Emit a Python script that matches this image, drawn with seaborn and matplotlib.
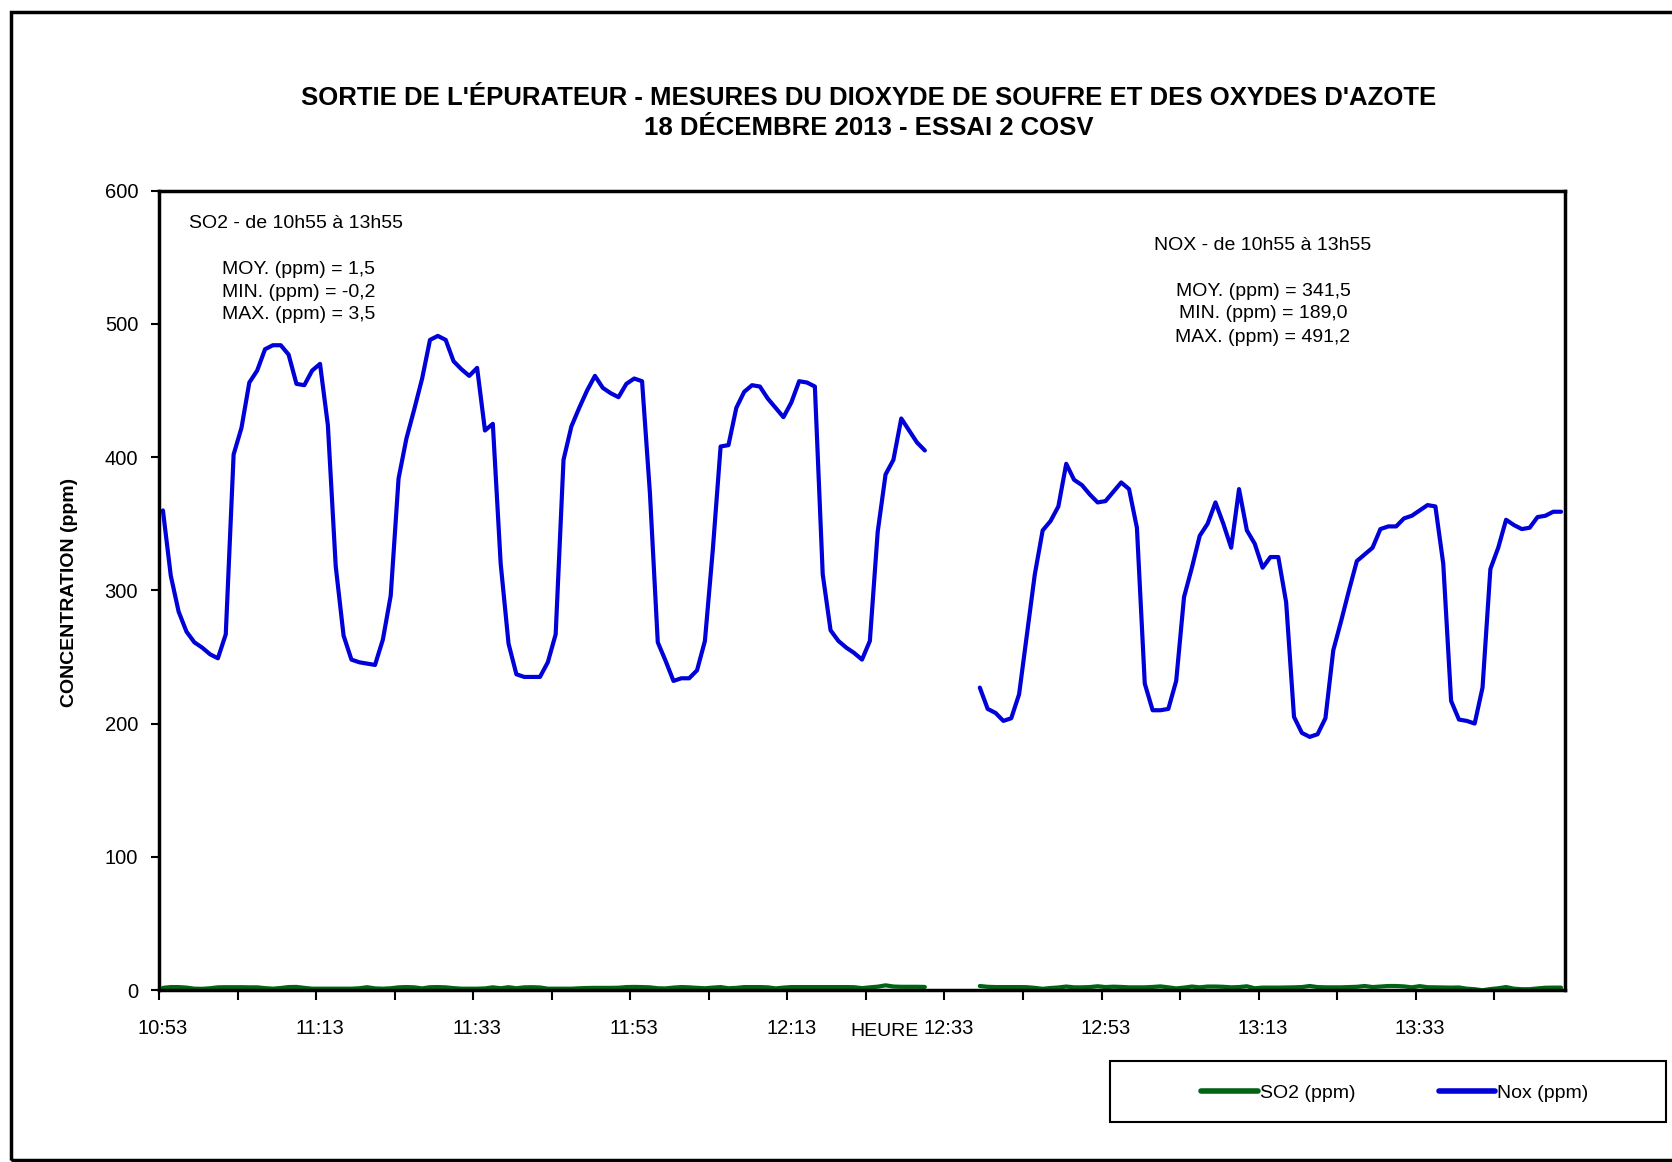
import numpy as np
import pandas as pd
import matplotlib
matplotlib.use("Agg")
import matplotlib.pyplot as plt
import seaborn as sns
from matplotlib.lines import Line2D
from matplotlib.patches import Rectangle

sns.set_style("white")
plt.rcParams['font.family'] = ['Liberation Sans', 'DejaVu Sans']
plt.rcParams['text.color'] = 'black'
plt.rcParams['xtick.color'] = 'black'
plt.rcParams['ytick.color'] = 'black'
plt.rcParams['axes.labelcolor'] = 'black'

# ---------------- data (one value per minute, category axis) ----------------
seg1_start = 0      # 10:53
seg2_start = 104    # 12:37 (no data 12:31 - 12:36)
n_categories = 179

nox_seg1 = [360, 311, 284, 269, 261, 257, 252, 249, 267, 402,
            422, 456, 465, 481, 484, 484, 477, 455, 454, 465,
            470, 424, 318, 266, 248, 246, 245, 244, 263, 296,
            384, 414, 436, 459, 488, 491, 488, 472, 466, 461,
            467, 420, 425, 320, 260, 237, 235, 235, 235, 246,
            267, 398, 423, 437, 450, 461, 452, 448, 445, 455,
            459, 457, 373, 261, 247, 232, 234, 234, 240, 262,
            330, 408, 409, 437, 449, 454, 453, 444, 437, 430,
            441, 457, 456, 453, 312, 270, 262, 257, 253, 248,
            262, 344, 387, 398, 429, 420, 411, 405]
nox_seg2 = [227, 211, 208, 202, 204, 222, 267, 312, 345, 352,
            363, 395, 383, 379, 372, 366, 367, 374, 381, 376,
            347, 230, 210, 210, 211, 232, 295, 317, 341, 350,
            366, 350, 332, 376, 345, 335, 317, 325, 325, 291,
            205, 193, 190, 192, 204, 255, 277, 300, 322, 327,
            332, 346, 348, 348, 354, 356, 360, 364, 363, 320,
            217, 203, 202, 200, 227, 316, 332, 353, 349, 346,
            347, 355, 356, 359, 359]

so2_seg1 = [1.6, 2.2, 2.2, 1.8, 1.0, 0.9, 1.3, 2.0, 2.1, 2.1,
            2.1, 2.0, 2.0, 1.4, 1.0, 1.5, 2.2, 2.3, 1.6, 1.0,
            1.0, 1.0, 1.0, 1.0, 1.0, 1.3, 2.1, 1.2, 1.0, 1.3,
            2.0, 2.2, 2.0, 1.2, 2.1, 2.2, 2.0, 1.4, 1.0, 1.0,
            1.0, 1.2, 2.0, 1.3, 2.1, 1.3, 2.0, 2.1, 1.9, 1.0,
            1.0, 1.0, 1.0, 1.3, 1.5, 1.6, 1.6, 1.6, 1.7, 2.2,
            2.3, 2.2, 2.0, 1.3, 1.2, 1.8, 2.2, 2.0, 1.6, 1.3,
            1.8, 2.2, 1.3, 1.6, 2.2, 2.2, 2.2, 2.0, 1.2, 1.8,
            2.2, 2.2, 2.2, 2.2, 2.2, 2.2, 2.2, 2.2, 2.1, 1.4,
            2.0, 2.5, 3.5, 2.6, 2.4, 2.4, 2.4, 2.3]
so2_seg2 = [3.0, 2.4, 2.2, 2.2, 2.2, 2.2, 2.1, 1.6, 0.9, 1.5,
            1.9, 2.6, 2.0, 2.0, 2.2, 2.8, 2.2, 2.5, 2.3, 2.0,
            2.0, 2.0, 2.3, 2.7, 2.0, 1.2, 1.8, 2.6, 2.0, 2.6,
            2.6, 2.4, 2.0, 2.2, 2.8, 1.3, 1.8, 1.8, 1.8, 1.9,
            2.0, 2.2, 3.0, 2.2, 2.0, 2.0, 2.0, 2.2, 2.4, 3.0,
            2.2, 2.6, 3.0, 3.0, 2.7, 2.0, 2.9, 2.1, 2.0, 1.9,
            1.8, 1.9, 1.0, 0.6, -0.2, 0.7, 1.3, 2.2, 1.0, 0.6,
            0.6, 1.2, 1.7, 1.8, 1.8]

tick_positions = [0, 20, 40, 60, 80, 100, 120, 140, 160]
tick_labels = ["10:53", "11:13", "11:33", "11:53", "12:13",
               "12:33", "12:53", "13:13", "13:33"]
y_ticks = [0, 100, 200, 300, 400, 500, 600]

series_names = ["SO2 (ppm)", "Nox (ppm)"]
colors = {"SO2 (ppm)": "#006414", "Nox (ppm)": "#0000D8"}

title1 = "SORTIE DE L'ÉPURATEUR - MESURES DU DIOXYDE DE SOUFRE ET DES OXYDES D'AZOTE"
title2 = "18 DÉCEMBRE 2013 - ESSAI 2 COSV"
so2_notes = ["MOY. (ppm) = 1,5", "MIN. (ppm) = -0,2", "MAX. (ppm) = 3,5"]
nox_notes = ["MOY. (ppm) = 341,5", "MIN. (ppm) = 189,0", "MAX. (ppm) = 491,2"]

# ---------------- long table ----------------
rows = []
for name, segs in (("SO2 (ppm)", (so2_seg1, so2_seg2)), ("Nox (ppm)", (nox_seg1, nox_seg2))):
    for seg_id, (start, vals) in enumerate(zip((seg1_start, seg2_start), segs)):
        for k, v in enumerate(vals):
            rows.append({"idx": start + k, "value": v, "series": name, "segment": seg_id})
df = pd.DataFrame(rows)

W, H = 1672, 1162
fig = plt.figure(figsize=(W / 100, H / 100), dpi=100)

def fx(px):
    return px / W

def fy(py):
    return 1 - py / H

ax_left, ax_right, ax_top, ax_bottom = 159, 1565, 190.7, 990
ax = fig.add_axes([fx(ax_left), fy(ax_bottom), fx(ax_right - ax_left), (ax_bottom - ax_top) / H])

sns.lineplot(data=df, x="idx", y="value", hue="series", hue_order=series_names,
             units="segment", estimator=None, palette=colors, ax=ax,
             legend=False, linewidth=3.0, sort=True)

ax.set_xlim(-0.5, n_categories - 0.5)
ax.set_ylim(0, 600)
ax.set_xlabel("")
ax.set_ylabel("")

ax.set_xticks(tick_positions)
ax.set_xticklabels(tick_labels)
ax.set_xticks(np.arange(-0.5, 170, 10), minor=True)
ax.set_yticks(y_ticks)
ax.set_yticklabels([str(v) for v in y_ticks])

ax.tick_params(axis="x", which="major", bottom=True, length=0, pad=21, labelsize=14.5,
               labelcolor="black")
ax.tick_params(axis="x", which="minor", bottom=True, length=7, width=1.5,
               direction="out", color="black")
ax.tick_params(axis="y", which="major", left=True, length=6, width=1.5,
               direction="out", color="black", pad=9, labelsize=14.5, labelcolor="black")

for sp in ax.spines.values():
    sp.set_visible(True)
    sp.set_color("black")
    sp.set_linewidth(2.5)

# ---------------- texts ----------------
fig.text(fx(869), fy(98), title1, ha="center", va="center", fontsize=18.5,
         fontweight="bold", color="black")
fig.text(fx(869), fy(128), title2, ha="center", va="center", fontsize=18.5,
         fontweight="bold", color="black")

fig.text(fx(70), fy(592), "CONCENTRATION (ppm)", ha="center", va="center",
         rotation=90, fontsize=14, fontweight="bold", color="black")
fig.text(fx(885), fy(1031), "HEURE", ha="center", va="center", fontsize=14, color="black")

fig.text(fx(189), fy(223), "SO2 - de 10h55 à 13h55", ha="left", va="center",
         fontsize=14, color="black")
for k, t in enumerate(so2_notes):
    fig.text(fx(298.5), fy(270 + 22.3 * k), t, ha="center", va="center",
             fontsize=14, color="black")

fig.text(fx(1262.5), fy(245), "NOX - de 10h55 à 13h55", ha="center", va="center",
         fontsize=14, color="black")
for k, t in enumerate(nox_notes):
    fig.text(fx(1263), fy(291 + 23 * k), t, ha="center", va="center",
             fontsize=14, color="black")

# ---------------- legend ----------------
fig.add_artist(Rectangle((fx(1110), fy(1122)), fx(1666 - 1110), (1122 - 1061) / H,
                         transform=fig.transFigure, fill=False, lw=1.5, ec="black"))
handles = [Line2D([], [], color=colors[n], lw=4.0) for n in series_names]
leg = fig.legend(handles, series_names, ncol=2, loc="center", bbox_to_anchor=(fx(1395), fy(1093)),
                 frameon=False, handlelength=2.9, handletextpad=0.1, columnspacing=4.3,
                 fontsize=14)
for t in leg.get_texts():
    t.set_color("black")

# ---------------- outer chart border ----------------
fig.add_artist(Rectangle((fx(11), fy(1160)), fx(1700), (1160 - 12) / H,
                         transform=fig.transFigure, fill=False, lw=2.5, ec="black"))

fig.savefig("out.png", dpi=100)
